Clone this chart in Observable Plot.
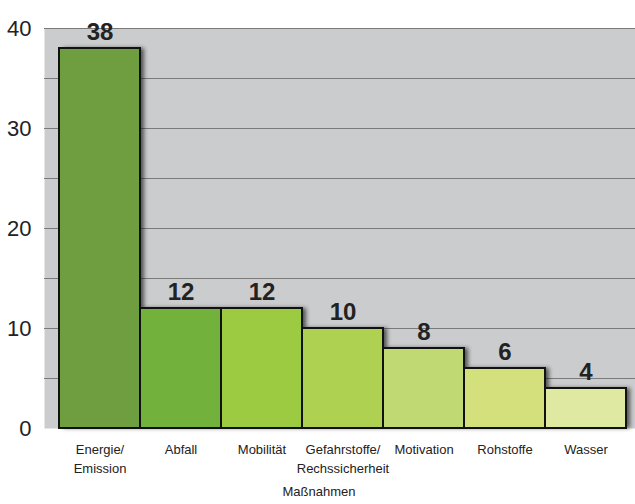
<!DOCTYPE html>
<html><head><meta charset="utf-8">
<script src="https://cdn.jsdelivr.net/npm/d3@7"></script>
<script src="https://cdn.jsdelivr.net/npm/@observablehq/plot@0.6"></script>
<style>body{margin:0;background:#fff}</style>
</head><body><div id="chart"></div>
<script>
const categories = ["Energie/\nEmission", "Abfall", "Mobilität", "Gefahrstoffe/\nRechssicherheit", "Motivation", "Rohstoffe", "Wasser"];
const values = [38, 12, 12, 10, 8, 6, 4];
const yTicks = [0, 10, 20, 30, 40];
const gridTicks = [5, 10, 15, 20, 25, 30, 35, 40];
const xTitle = "Maßnahmen";
const palette = ["#6e9e3f", "#72b13b", "#9ccb42", "#aed152", "#c0d972", "#d3e07c", "#e0e9a1"];

const data = categories.map((c, i) => ({c, v: values[i]}));

const chart = Plot.plot({
  width: 635, height: 504,
  marginLeft: 44, marginRight: 0, marginTop: 28, marginBottom: 76,
  style: {fontFamily: "'Liberation Sans', Arial, sans-serif", background: "white", color: "#222"},
  x: {domain: categories, padding: 0, insetLeft: 13, insetRight: 7, label: null},
  y: {domain: [0, 40], label: null},
  color: {domain: categories, range: palette},
  marks: [
    Plot.frame({fill: "#cbcccd", stroke: null}),
    Plot.gridY(gridTicks, {stroke: "#7a7a7a", strokeOpacity: 1, strokeWidth: 1}),
    Plot.barY(data, {x: "c", y: "v", fill: "#000", fillOpacity: 0.6, dx: 4, className: "shadow"}),
    Plot.barY(data, {x: "c", y: "v", fill: "c", stroke: "#111", strokeWidth: 2}),
    Plot.text(data, {x: "c", y: "v", text: "v", dy: -16, fontSize: 24, fontWeight: "bold", fill: "#222"}),
    Plot.axisY(yTicks, {tickSize: 0, tickPadding: 13, fontSize: 22, fill: "#222", label: null}),
    Plot.axisX({tickSize: 0, tickPadding: 12, fontSize: 13, lineHeight: 1.45, fill: "#222", label: null}),
    Plot.text([xTitle], {text: d => d, frameAnchor: "bottom", dy: 67, dx: -21, fontSize: 13, fill: "#222"})
  ]
});
d3.select(chart).selectAll(".shadow").style("filter", "blur(2px)");
document.getElementById("chart").append(chart);
</script>
</body></html>
